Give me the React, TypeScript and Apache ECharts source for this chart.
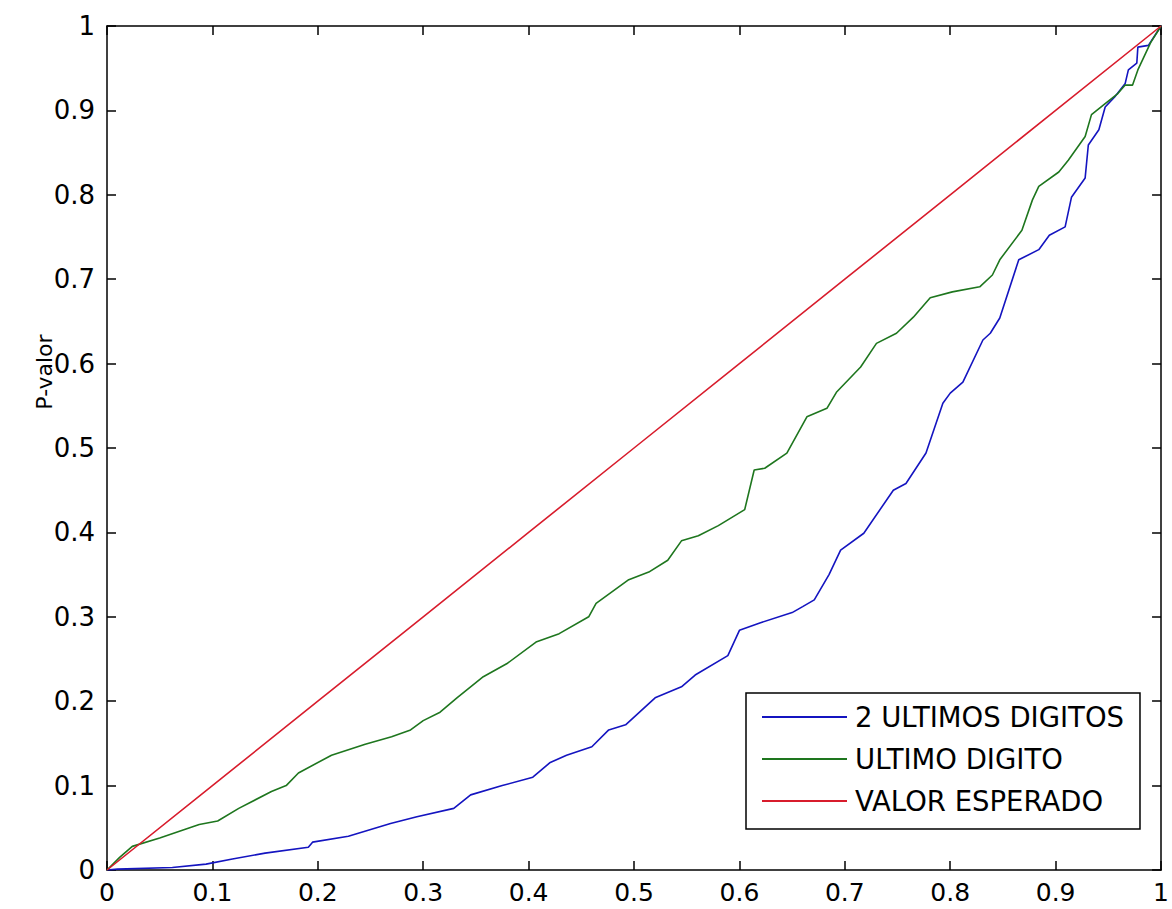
import React, { useEffect, useRef } from "react";
import * as echarts from "echarts";

const xTicks = [0, 0.1, 0.2, 0.3, 0.4, 0.5, 0.6, 0.7, 0.8, 0.9, 1];

const seriesNames = ["2 ULTIMOS DIGITOS", "ULTIMO DIGITO", "VALOR ESPERADO"];

const blueData: number[][] = [
  [0, 0], [0.01, 0.001], [0.062, 0.003], [0.094, 0.007], [0.119, 0.013], [0.15, 0.02],
  [0.191, 0.027], [0.195, 0.033], [0.229, 0.04], [0.269, 0.055], [0.294, 0.063],
  [0.329, 0.073], [0.345, 0.089], [0.375, 0.1], [0.404, 0.11], [0.42, 0.127],
  [0.436, 0.136], [0.46, 0.146], [0.476, 0.166], [0.492, 0.172], [0.52, 0.204],
  [0.545, 0.217], [0.558, 0.231], [0.589, 0.254], [0.6, 0.284], [0.62, 0.293],
  [0.65, 0.305], [0.66, 0.312], [0.671, 0.32], [0.685, 0.35], [0.696, 0.379],
  [0.718, 0.399], [0.746, 0.45], [0.758, 0.458], [0.777, 0.494], [0.793, 0.553],
  [0.8, 0.565], [0.812, 0.578], [0.831, 0.628], [0.838, 0.636], [0.847, 0.654],
  [0.865, 0.723], [0.884, 0.735], [0.894, 0.752], [0.909, 0.762], [0.915, 0.797],
  [0.928, 0.82], [0.931, 0.859], [0.941, 0.877], [0.947, 0.904], [0.956, 0.916],
  [0.966, 0.932], [0.969, 0.948], [0.977, 0.956], [0.978, 0.975], [0.988, 0.977],
  [1, 1],
];

const greenData: number[][] = [
  [0, 0], [0.012, 0.015], [0.024, 0.028], [0.05, 0.038], [0.0875, 0.054], [0.105, 0.058],
  [0.125, 0.073], [0.156, 0.093], [0.17, 0.1], [0.1816, 0.115], [0.213, 0.136],
  [0.245, 0.149], [0.27, 0.158], [0.288, 0.166], [0.3, 0.177], [0.316, 0.187],
  [0.332, 0.204], [0.357, 0.229], [0.38, 0.245], [0.407, 0.27], [0.429, 0.28],
  [0.457, 0.3], [0.464, 0.316], [0.495, 0.344], [0.514, 0.353], [0.532, 0.367],
  [0.545, 0.39], [0.561, 0.396], [0.58, 0.408], [0.605, 0.427], [0.614, 0.474],
  [0.624, 0.476], [0.645, 0.494], [0.664, 0.537], [0.683, 0.547], [0.692, 0.566],
  [0.715, 0.596], [0.73, 0.624], [0.749, 0.636], [0.765, 0.655], [0.781, 0.678],
  [0.802, 0.685], [0.828, 0.691], [0.84, 0.705], [0.847, 0.723], [0.868, 0.758],
  [0.878, 0.794], [0.884, 0.81], [0.903, 0.827], [0.912, 0.841], [0.928, 0.869],
  [0.934, 0.895], [0.947, 0.908], [0.959, 0.92], [0.966, 0.93], [0.973, 0.93],
  [0.978, 0.948], [0.99, 0.98], [1, 1],
];

const redData: number[][] = [
  [0, 0], [0.1, 0.1], [0.2, 0.2], [0.3, 0.3], [0.4, 0.4], [0.5, 0.5],
  [0.6, 0.6], [0.7, 0.7], [0.8, 0.8], [0.9, 0.9], [1, 1],
];

const colors = ["#1414c0", "#1e761e", "#d81c2c"];
const FONT = "DejaVu Sans";

export default function App() {
  const ref = useRef<HTMLDivElement>(null);
  useEffect(() => {
    if (!ref.current) return;
    const chart = echarts.init(ref.current, undefined, { renderer: "svg" });
    const axisCommon = {
      type: "value" as const,
      min: 0,
      max: 1,
      interval: 0.1,
      axisLine: { show: true, onZero: false, lineStyle: { color: "#000", width: 1.5 } },
      axisTick: { show: true, inside: true, length: 9, lineStyle: { color: "#000", width: 1.5 } },
      splitLine: { show: false },
    };
    const fmt = (v: number) => {
      const r = Math.round(v * 10) / 10;
      return r === 0 ? "0" : r === 1 ? "1" : String(r);
    };
    chart.setOption({
      animation: false,
      backgroundColor: "#fff",
      color: colors,
      grid: { left: 107, right: 2, top: 26, bottom: 39, containLabel: false },
      xAxis: [
        {
          ...axisCommon,
          position: "bottom",
          axisLabel: { show: true, color: "#000", fontSize: 25, lineHeight: 24, fontFamily: FONT, margin: 10, formatter: fmt },
        },
        {
          ...axisCommon,
          position: "top",
          axisLabel: { show: false },
        },
      ],
      yAxis: [
        {
          ...axisCommon,
          position: "left",
          axisLabel: { show: true, color: "#000", fontSize: 26, fontFamily: FONT, margin: 12, formatter: fmt },
        },
        {
          ...axisCommon,
          position: "right",
          axisLabel: { show: false },
        },
      ],
      legend: {
        left: 746,
        top: 693,
        orient: "vertical",
        icon: "rect",
        itemWidth: 85,
        itemHeight: 2,
        itemGap: 12,
        padding: [9, 16, 13, 16],
        borderColor: "#000",
        borderWidth: 1.5,
        backgroundColor: "#fff",
        textStyle: { fontSize: 27.5, fontFamily: FONT, color: "#000", lineHeight: 30, padding: [0, 0, 0, 3] },
        data: seriesNames,
      },
      graphic: [
        {
          type: "text",
          x: 44,
          y: 372,
          rotation: Math.PI / 2,
          style: {
            text: "P-valor",
            font: `22px "${FONT}"`,
            fill: "#000",
            align: "center",
            verticalAlign: "middle",
          },
        },
      ],
      series: [
        { name: seriesNames[0], type: "line", data: blueData, symbol: "none", lineStyle: { width: 1.6 }, xAxisIndex: 0, yAxisIndex: 0 },
        { name: seriesNames[1], type: "line", data: greenData, symbol: "none", lineStyle: { width: 1.6 }, xAxisIndex: 0, yAxisIndex: 0 },
        { name: seriesNames[2], type: "line", data: redData, symbol: "none", lineStyle: { width: 1.6 }, xAxisIndex: 0, yAxisIndex: 0 },
      ],
    });
    return () => chart.dispose();
  }, []);
  return (
    <div
      ref={ref}
      style={{ position: "absolute", left: 0, top: 0, width: 1172, height: 909, background: "#fff" }}
    />
  );
}
